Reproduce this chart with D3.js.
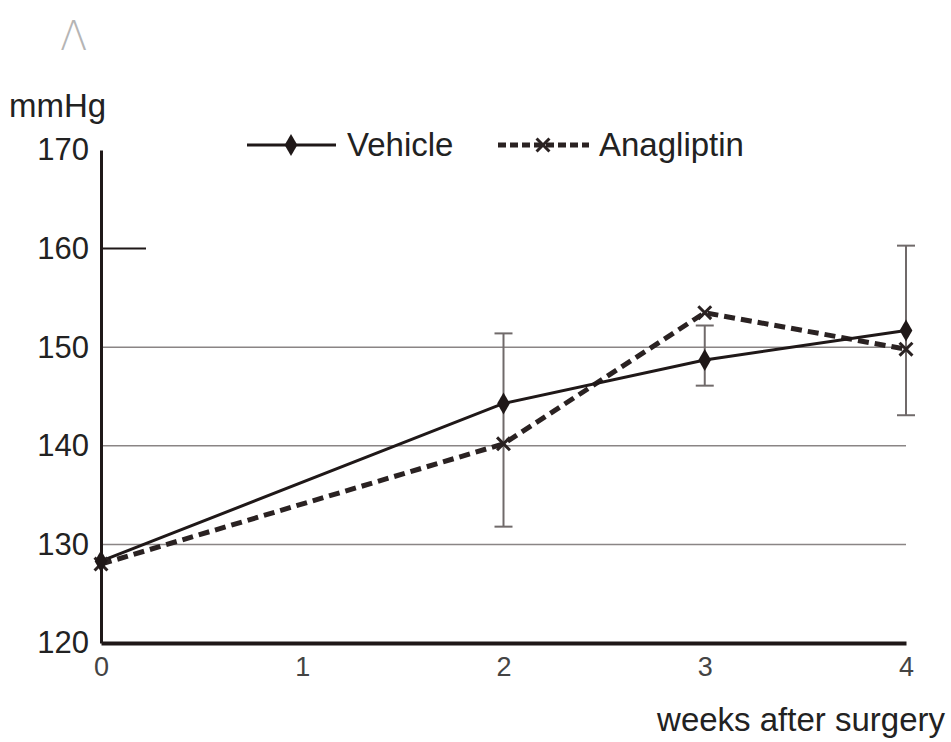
<!DOCTYPE html>
<html>
<head>
<meta charset="utf-8">
<script src="https://cdn.jsdelivr.net/npm/d3@7"></script>
<style>
  body { margin: 0; background: #fff; }
  svg { font-family: "Liberation Sans", Arial, sans-serif; }
</style>
</head>
<body>
<svg id="chart" width="951" height="742"></svg>
<script>
'use strict';

// data
const weeks = [0, 2, 3, 4];
const vehicle = [128.3, 144.3, 148.7, 151.7];
const anagliptin = [128.0, 140.2, 153.5, 149.8];
// error bar extent per week (top / bottom ends)
const errWeeks = [2, 3, 4];
const errHigh = [151.4, 152.2, 160.3];
const errLow = [131.8, 146.1, 143.1];
const yTicks = [120, 130, 140, 150, 160, 170];
const xTicks = [0, 1, 2, 3, 4];
const gridValues = [130, 140, 150];

const ink = '#1f1818';
const font = '"Liberation Sans", Arial, sans-serif';
const svg = d3.select('#chart');

const x = d3.scaleLinear().domain([0, 4]).range([101, 906]);
const y = d3.scaleLinear().domain([120, 170]).range([643, 150]);

// panel letter
svg.append('text')
    .attr('x', 60).attr('y', 50)
    .attr('font-size', 40)
    .attr('font-family', '"DejaVu Sans", sans-serif')
    .attr('font-weight', 200)
    .attr('fill', '#b5b5b5')
    .text('Λ');

svg.append('text')
    .attr('x', 9).attr('y', 117)
    .attr('font-size', 33)
    .attr('fill', '#222')
    .text('mmHg');

// grid
svg.append('g').selectAll('line')
    .data(gridValues)
    .enter().append('line')
    .attr('x1', x(0)).attr('x2', x(4))
    .attr('y1', d => y(d)).attr('y2', d => y(d))
    .attr('stroke', '#8a8585')
    .attr('stroke-width', 1.5);

// short tick at 160
svg.append('line')
    .attr('x1', x(0)).attr('x2', 146)
    .attr('y1', y(160)).attr('y2', y(160))
    .attr('stroke', ink).attr('stroke-width', 2);

// y axis
const yAxis = svg.append('g')
    .attr('transform', `translate(${x(0)},0)`)
    .call(d3.axisLeft(y).tickValues(yTicks).tickSize(0).tickPadding(12));
yAxis.select('.domain').attr('stroke', ink).attr('stroke-width', 3);
yAxis.selectAll('text')
    .attr('font-size', 31)
    .attr('fill', '#222')
    .attr('font-family', font);

// x axis
const xAxis = svg.append('g')
    .attr('transform', `translate(0,${y(120)})`)
    .call(d3.axisBottom(x).tickValues(xTicks).tickFormat(d3.format('d')).tickSize(0).tickPadding(14));
xAxis.select('.domain').attr('stroke', ink).attr('stroke-width', 4);
xAxis.selectAll('text')
    .attr('font-size', 27)
    .attr('fill', '#444')
    .attr('font-family', font);

svg.append('text')
    .attr('x', 945).attr('y', 731)
    .attr('text-anchor', 'end')
    .attr('font-size', 33)
    .attr('fill', '#222')
    .text('weeks after surgery');

// error bars
const errG = svg.append('g').attr('stroke', '#706a6a').attr('stroke-width', 2);
errWeeks.forEach((w, i) => {
    errG.append('line')
        .attr('x1', x(w)).attr('x2', x(w))
        .attr('y1', y(errHigh[i])).attr('y2', y(errLow[i]));
    [errHigh[i], errLow[i]].forEach(v => {
        errG.append('line')
            .attr('x1', x(w) - 9).attr('x2', x(w) + 9)
            .attr('y1', y(v)).attr('y2', y(v));
    });
});

const line = d3.line().x(d => x(d[0])).y(d => y(d[1]));

// anagliptin (dashed)
svg.append('path')
    .datum(weeks.map((w, i) => [w, anagliptin[i]]))
    .attr('d', line)
    .attr('fill', 'none')
    .attr('stroke', '#2a2222')
    .attr('stroke-width', 5)
    .attr('stroke-dasharray', '11,6');

// vehicle (solid)
svg.append('path')
    .datum(weeks.map((w, i) => [w, vehicle[i]]))
    .attr('d', line)
    .attr('fill', 'none')
    .attr('stroke', ink)
    .attr('stroke-width', 3);

const diamond = d3.symbol().type(d3.symbolDiamond).size(140);
const cross = d3.symbol().type(d3.symbolX).size(110);

function drawCross(g, cx, cy) {
    g.append('path')
        .attr('transform', `translate(${cx},${cy})`)
        .attr('d', cross())
        .attr('fill', '#2a2222')
        .attr('stroke', '#2a2222')
        .attr('stroke-width', 3);
}
function drawDiamond(g, cx, cy) {
    g.append('path')
        .attr('transform', `translate(${cx},${cy})`)
        .attr('d', diamond())
        .attr('fill', ink);
}

const markG = svg.append('g');
weeks.forEach((w, i) => drawCross(markG, x(w), y(anagliptin[i])));
weeks.forEach((w, i) => drawDiamond(markG, x(w), y(vehicle[i])));

// legend
const lg = svg.append('g');
lg.append('line')
    .attr('x1', 247).attr('x2', 336).attr('y1', 145).attr('y2', 145)
    .attr('stroke', ink).attr('stroke-width', 3);
drawDiamond(lg, 291, 145);
lg.append('text')
    .attr('x', 347).attr('y', 156)
    .attr('font-size', 33).attr('fill', '#222')
    .text('Vehicle');

lg.append('line')
    .attr('x1', 498).attr('x2', 589).attr('y1', 145).attr('y2', 145)
    .attr('stroke', '#2a2222').attr('stroke-width', 5)
    .attr('stroke-dasharray', '8,4');
drawCross(lg, 543, 145);
lg.append('text')
    .attr('x', 599).attr('y', 156)
    .attr('font-size', 33).attr('fill', '#222')
    .text('Anagliptin');
</script>
</body>
</html>
